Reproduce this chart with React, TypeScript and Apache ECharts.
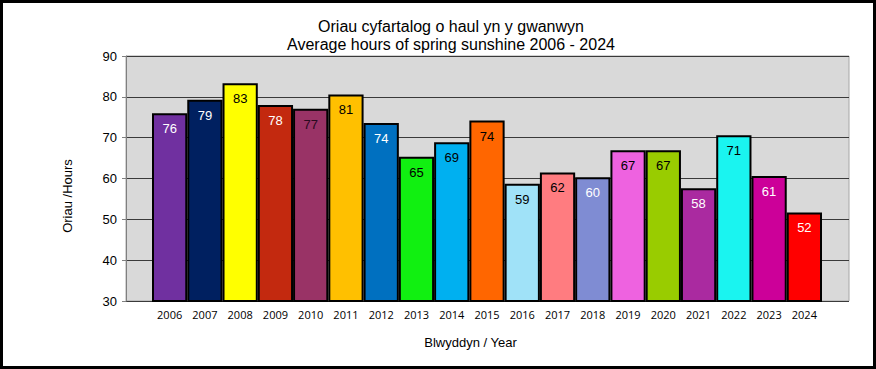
import React, { useEffect, useRef } from "react";
import * as echarts from "echarts";

const years = ["2006","2007","2008","2009","2010","2011","2012","2013","2014","2015","2016","2017","2018","2019","2020","2021","2022","2023","2024"];
const hours = [76.0, 79.3, 83.3, 78.0, 77.1, 80.6, 73.6, 65.3, 68.9, 74.2, 58.7, 61.5, 60.3, 66.9, 66.9, 57.6, 70.6, 60.6, 51.7];
const barColors = ["#7030a0","#002060","#ffff00","#c3290f","#993366","#ffc000","#0070c0","#11f011","#00b0f0","#ff6600","#a0e2f8","#ff7c80","#7f8cd3","#ee62e0","#99cc00","#aa2aa0","#1af4f0","#cc0099","#ff0000"];
const labelColors = ["#ffffff","#ffffff","#000000","#ffffff","#2a0a20","#000000","#ffffff","#000000","#000000","#000000","#000000","#000000","#ffffff","#000000","#000000","#ffffff","#000000","#ffffff","#ffffff"];
const yTicks = { min: 30, max: 90, interval: 10 };
const titleLines = ["Oriau cyfartalog o haul yn y gwanwyn", "Average hours of spring sunshine 2006 - 2024"];
const xName = "Blwyddyn / Year";
const yName = "Oriau /Hours";

const FONT = "'Liberation Sans', Arial, sans-serif";

export default function App() {
  const ref = useRef<HTMLDivElement>(null);
  useEffect(() => {
    if (!ref.current) return;
    const chart = echarts.init(ref.current, undefined, { renderer: "svg" });
    chart.setOption({
      animation: false,
      backgroundColor: "#ffffff",
      title: [
        { text: titleLines[0] + "\n" + titleLines[1], left: 446, top: 12, textAlign: "center",
          textStyle: { fontFamily: FONT, fontSize: 16, fontWeight: "normal", color: "#000", lineHeight: 18 } },
      ],
      graphic: [
        { type: "text", x: 67, y: 196, rotation: Math.PI / 2,
          style: { text: yName, fontFamily: FONT, fontSize: 13, fill: "#000", align: "center", verticalAlign: "middle" } },
      ],
      grid: [
        { left: 126, right: 27, top: 56, bottom: 68, show: true, backgroundColor: "#d9d9d9", borderColor: "#a6a6a6", borderWidth: 1 },
        { left: 152, right: 54, top: 56, bottom: 68 },
      ],
      xAxis: [
        { gridIndex: 0, type: "value", show: false, min: 0, max: 1 },
        { gridIndex: 1, type: "category", data: years, boundaryGap: true,
          axisLine: { show: false }, axisTick: { show: false },
          axisLabel: { fontFamily: "'Open Sans', sans-serif", fontSize: 11, color: "#000", margin: 8 },
          name: xName, nameLocation: "middle", nameGap: 35,
          nameTextStyle: { fontFamily: FONT, fontSize: 13, color: "#000", padding: [0, 33, 0, 0] } },
      ],
      yAxis: [
        { gridIndex: 0, type: "value", min: yTicks.min, max: yTicks.max, interval: yTicks.interval,
          axisLine: { show: true, lineStyle: { color: "#808080" } },
          axisTick: { show: true, length: 4, lineStyle: { color: "#808080" } },
          splitLine: { show: true, lineStyle: { color: "#3a3a3a", width: 1 } },
          axisLabel: { fontFamily: FONT, fontSize: 13, color: "#000", margin: 9 } },
        { gridIndex: 1, type: "value", min: yTicks.min, max: yTicks.max, interval: yTicks.interval, show: false, splitLine: { show: false } },
      ],
      series: [
        {
          type: "bar", xAxisIndex: 1, yAxisIndex: 1, barCategoryGap: "0%",
          data: hours.map((v, i) => ({
            value: v,
            itemStyle: { color: barColors[i], borderColor: "#000", borderWidth: 2 },
            label: { color: labelColors[i] },
          })),
          label: { show: true, position: "insideTop", distance: 9, fontFamily: FONT, fontSize: 13,
            formatter: (p: any) => String(Math.round(p.value)) },
        },
      ],
    });
    return () => chart.dispose();
  }, []);
  return (
    <div style={{ position: "fixed", left: 0, top: 0, width: 876, height: 369, background: "#fff" }}>
      <div ref={ref} style={{ position: "absolute", left: 0, top: 0, width: 876, height: 369 }} />
      <div style={{ position: "absolute", left: 0, top: 0, width: 876, height: 369, boxSizing: "border-box", border: "3px solid #000", pointerEvents: "none" }} />
    </div>
  );
}
